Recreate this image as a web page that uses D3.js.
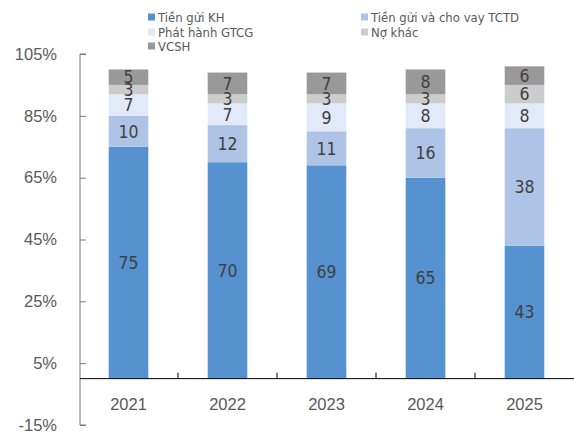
<!DOCTYPE html>
<html>
<head>
<meta charset="utf-8">
<script src="https://cdn.jsdelivr.net/npm/d3@7/dist/d3.min.js"></script>
<style>
  html, body { margin: 0; padding: 0; background: #fff; }
  svg { display: block; font-family: "DejaVu Sans Condensed", "DejaVu Sans", sans-serif; }
</style>
</head>
<body>
<svg id="chart" width="574" height="434"></svg>
<script>
// Funding structure by year (% of total)
const years = ["2021", "2022", "2023", "2024", "2025"];
const seriesNames = ["Tiền gửi KH", "Tiền gửi và cho vay TCTD", "Phát hành GTCG", "Nợ khác", "VCSH"];
const tienGuiKH   = [75, 70, 69, 65, 43];
const tienGuiTCTD = [10, 12, 11, 16, 38];
const phatHanh    = [7, 7, 9, 8, 8];
const noKhac      = [3, 3, 3, 3, 6];
const vcsh        = [5, 7, 7, 8, 6];
const yTicks = [-15, 5, 25, 45, 65, 85, 105];

const colors = ["#5592cf", "#aec4e7", "#e2e9f8", "#cccccc", "#999999"];
const seriesValues = [tienGuiKH, tienGuiTCTD, phatHanh, noKhac, vcsh];

const rows = years.map((yr, i) => {
  const r = { year: yr };
  seriesNames.forEach((n, k) => { r[n] = seriesValues[k][i]; });
  return r;
});

const svg = d3.select("#chart");
const plotLeft = 80, plotRight = 575, plotTop = 54, plotBottom = 425;

const x = d3.scaleBand().domain(years).range([plotLeft, plotRight]).paddingInner(0).paddingOuter(0);
const y = d3.scaleLinear().domain([-15, 105]).range([plotBottom, plotTop]);
const barW = x.bandwidth() * 0.4;

const stacked = d3.stack().keys(seriesNames)(rows);

// bars
const layer = svg.append("g").selectAll("g").data(stacked).join("g")
  .attr("fill", (d, i) => colors[i]);
layer.selectAll("rect").data(d => d).join("rect")
  .attr("x", d => x(d.data.year) + (x.bandwidth() - barW) / 2 - 1)
  .attr("width", barW)
  .attr("y", d => y(d[1]))
  .attr("height", d => y(d[0]) - y(d[1]));

// value labels
const lab = svg.append("g").attr("font-size", 17.5).attr("fill", "#404040").attr("text-anchor", "middle");
stacked.forEach(s => {
  s.forEach(d => {
    lab.append("text")
      .attr("x", x(d.data.year) + x.bandwidth() / 2 - 1)
      .attr("y", (y(d[0]) + y(d[1])) / 2)
      .attr("dy", "0.36em")
      .text(d.data[s.key]);
  });
});

// y axis
const yAxis = svg.append("g").attr("transform", `translate(${plotLeft},0)`)
  .call(d3.axisRight(y).tickValues(yTicks).tickSize(6).tickFormat(d => d + "%"));
yAxis.select(".domain").attr("stroke", "#777").attr("d", `M6,${plotTop}H0V${plotBottom}H6`);
yAxis.selectAll(".tick line").attr("stroke", "#777");
yAxis.selectAll(".tick text").attr("x", -23).attr("text-anchor", "end")
  .attr("font-size", 16.5).attr("fill", "#595959").attr("font-family", null);

// x axis at zero
const xAxis = svg.append("g").attr("transform", `translate(0,${y(0)})`)
  .call(d3.axisBottom(x).tickSize(0).tickPadding(20));
xAxis.select(".domain").attr("stroke", "#000").attr("d", `M${plotLeft},0H${plotRight}`);
xAxis.selectAll(".tick text").attr("font-size", 16.5).attr("fill", "#595959").attr("font-family", null)
  .attr("dx", -1);
// category separators
svg.append("g").selectAll("line").data(years.slice(1)).join("line")
  .attr("x1", d => x(d) - 1).attr("x2", d => x(d) - 1)
  .attr("y1", y(0) - 6).attr("y2", y(0))
  .attr("stroke", "#000");

// legend
const legendPos = [[148, 17], [361, 17], [148, 32], [361, 32], [148, 46]];
const leg = svg.append("g").attr("font-size", 13).attr("fill", "#595959");
seriesNames.forEach((n, i) => {
  const [lx, ly] = legendPos[i];
  leg.append("rect").attr("x", lx).attr("y", ly - 3.5).attr("width", 7).attr("height", 7).attr("fill", colors[i]);
  leg.append("text").attr("x", lx + 10).attr("y", ly).attr("dy", "0.35em").text(n);
});
</script>
</body>
</html>
